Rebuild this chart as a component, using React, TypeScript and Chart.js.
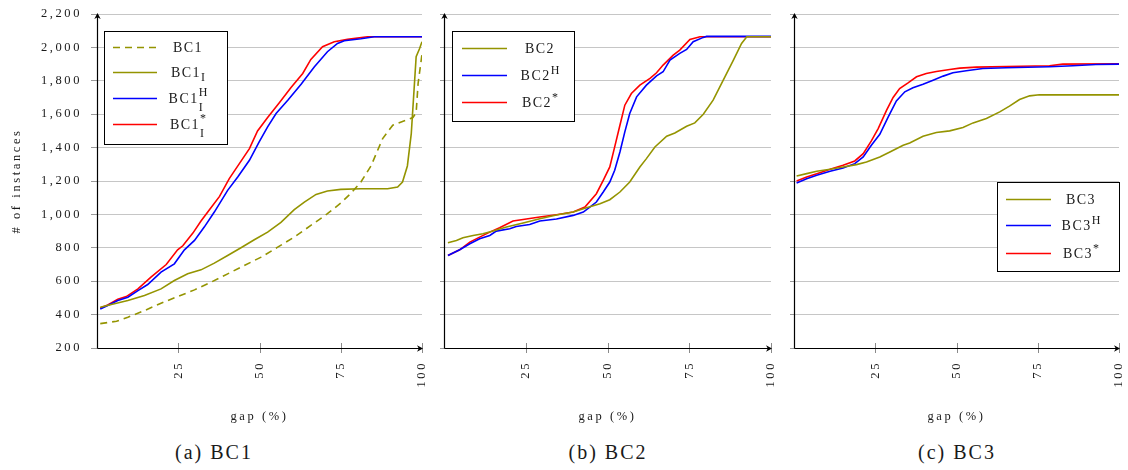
import React, { useEffect, useRef } from "react";
import { Chart, registerables } from "chart.js";

Chart.register(...registerables);

// ---------- tick labels ----------
const yTickValues = [200, 400, 600, 800, 1000, 1200, 1400, 1600, 1800, 2000, 2200];
const xTickValues = [25, 50, 75, 100];

// ---------- (a) BC1 ----------
const bc1Gap = [1, 6, 9.5, 14.6, 19.7, 24.8, 30, 35.1, 40.2, 45.3, 50.5, 55.6, 60.7, 65.8, 70.9, 75, 78, 81.2, 84.3, 87.9, 91, 94, 97.2, 98.2, 98.8, 100];
const bc1Count = [346, 360, 384, 424, 468, 508, 548, 594, 644, 694, 744, 804, 864, 934, 1004, 1068, 1124, 1194, 1290, 1454, 1534, 1556, 1580, 1610, 1784, 1960];

const bc1IGap = [1, 4.4, 9.5, 14.6, 19.7, 23.8, 27.9, 32, 36.1, 40.2, 44.3, 48.4, 52.5, 56.6, 60.7, 63.8, 67.4, 70.9, 75, 81.2, 89.4, 92.5, 94, 95.5, 96.7, 97.6, 98.2, 99.2, 100];
const bc1ICount = [444, 460, 484, 514, 554, 604, 644, 668, 708, 754, 800, 848, 894, 952, 1028, 1074, 1120, 1140, 1150, 1154, 1154, 1164, 1194, 1290, 1484, 1760, 1944, 1990, 2034];

const bc1IHGap = [1, 3.3, 6.4, 9.5, 12.6, 15.6, 19.7, 23.8, 26.9, 30, 33, 36.1, 40.2, 43.3, 46.9, 49.9, 52.5, 55.1, 58.7, 62.8, 66.9, 70.9, 74, 76.1, 81.2, 85.3, 100];
const bc1IHCount = [434, 454, 484, 504, 544, 580, 654, 704, 788, 844, 924, 1014, 1144, 1224, 1324, 1434, 1524, 1604, 1684, 1780, 1884, 1974, 2024, 2040, 2052, 2064, 2064];

const bc1IStarGap = [1, 3.3, 6.4, 9, 12.6, 16.6, 21.3, 24.8, 26.4, 29.5, 32, 34.6, 37.7, 40.7, 43.8, 46.9, 49.4, 52.5, 56.1, 59.7, 63.3, 65.8, 69.4, 73, 77.1, 83.2, 100];
const bc1IStarCount = [440, 458, 492, 508, 554, 624, 700, 788, 812, 888, 960, 1028, 1108, 1214, 1304, 1394, 1500, 1580, 1668, 1760, 1844, 1928, 2004, 2034, 2048, 2064, 2064];

// ---------- (b) BC2 ----------
const bc2Gap = [1.2, 3.8, 5.8, 8.9, 11.9, 15, 19.1, 24.2, 29.3, 34.4, 39.5, 43.6, 47.7, 50.7, 53.8, 56.8, 59.9, 61.9, 64.5, 68.1, 70.6, 74.2, 76.7, 79.3, 82.3, 85.4, 88.5, 91, 92.6, 100];
const bc2Count = [830, 844, 860, 874, 884, 900, 924, 948, 974, 996, 1014, 1040, 1064, 1088, 1134, 1194, 1284, 1334, 1404, 1468, 1488, 1528, 1548, 1600, 1684, 1804, 1924, 2024, 2064, 2064];

const bc2HGap = [1.2, 4.8, 7.9, 10.9, 14, 16, 20.1, 22.1, 26.2, 29.3, 34.4, 39.5, 42.6, 44.6, 46.6, 48.7, 50.7, 52.2, 53.8, 55.3, 56.8, 58.9, 61.9, 65, 67, 69.1, 72.1, 74.2, 76.2, 79.3, 80.3, 100];
const bc2HCount = [754, 788, 824, 854, 874, 900, 914, 928, 940, 960, 972, 994, 1014, 1044, 1074, 1134, 1194, 1264, 1374, 1494, 1604, 1704, 1774, 1830, 1854, 1924, 1964, 1988, 2034, 2060, 2066, 2066];

const bc2StarGap = [1.2, 4.8, 7.9, 10.9, 14, 17, 21.1, 25.2, 29.3, 34.4, 39.5, 43.1, 46.6, 48.7, 50.7, 52.2, 53.8, 55.3, 57.3, 59.9, 63, 65, 67, 70.1, 72.1, 75.2, 78.3, 100];
const bc2StarCount = [754, 788, 834, 864, 894, 920, 960, 972, 984, 998, 1014, 1044, 1124, 1204, 1284, 1404, 1534, 1654, 1724, 1774, 1814, 1848, 1894, 1954, 1984, 2048, 2064, 2064];

// ---------- (c) BC3 ----------
const bc3Gap = [0.8, 3.9, 7, 11.1, 15.1, 19.2, 22.3, 26.4, 29.5, 33.6, 35.6, 39.7, 43.8, 47.9, 52, 55.1, 59.2, 63.3, 66.3, 69.4, 72.5, 75.5, 100];
const bc3Count = [1230, 1244, 1258, 1270, 1284, 1298, 1314, 1344, 1374, 1414, 1428, 1468, 1490, 1500, 1520, 1548, 1574, 1614, 1648, 1688, 1710, 1716, 1716];

const bc3HGap = [0.8, 3.9, 7, 11.1, 15.1, 18.7, 21.3, 23.8, 26.4, 29, 31.5, 34.1, 36.6, 39.7, 42.8, 45.9, 48.9, 53, 58.1, 65.3, 78.6, 85.8, 92.9, 100];
const bc3HCount = [1188, 1214, 1234, 1258, 1278, 1304, 1344, 1414, 1480, 1584, 1680, 1734, 1758, 1780, 1804, 1828, 1848, 1860, 1874, 1878, 1884, 1890, 1898, 1900];

const bc3StarGap = [0.8, 3.9, 7, 11.1, 15.1, 18.7, 21.3, 23.8, 25.9, 28.5, 30.5, 32.5, 35.1, 37.7, 40.7, 43.8, 47.9, 51, 56.1, 65.3, 78.6, 82.7, 100];
const bc3StarCount = [1200, 1224, 1244, 1270, 1294, 1320, 1364, 1440, 1514, 1624, 1700, 1754, 1788, 1824, 1844, 1856, 1868, 1876, 1882, 1886, 1890, 1900, 1902];

// ---------- styling ----------
const OLIVE = "#949400";
const BLUE = "#0000ff";
const RED = "#ff0000";
const FONT = '"Liberation Serif", "Times New Roman", serif';
const TEXT = "#1a1a1a";

type Series = { label: string; sup?: string; sub?: string; gap: number[]; count: number[]; color: string; dash?: number[] };
type LegendLayout = { x: number; y: number; w: number; h: number; rows: number[]; lx0: number; lx1: number; cx: number };
type Panel = {
  caption: string;
  left: number;
  width: number;
  yWidth: number;
  padRight: number;
  showYLabels: boolean;
  tickLen: number;
  series: Series[];
  legend: LegendLayout;
  captionCx: number;
};

const CANVAS_H = 428;

const panels: Panel[] = [
  {
    caption: "(a) BC1",
    left: 0,
    width: 432,
    yWidth: 97,
    padRight: 10,
    showYLabels: true,
    tickLen: 6,
    captionCx: 214,
    series: [
      { label: "BC1", gap: bc1Gap, count: bc1Count, color: OLIVE, dash: [7, 5] },
      { label: "BC1", sub: "I", gap: bc1IGap, count: bc1ICount, color: OLIVE },
      { label: "BC1", sub: "I", sup: "H", gap: bc1IHGap, count: bc1IHCount, color: BLUE },
      { label: "BC1", sub: "I", sup: "*", gap: bc1IStarGap, count: bc1IStarCount, color: RED },
    ],
    legend: { x: 104, y: 31, w: 123, h: 113, rows: [47, 72, 98, 124], lx0: 113, lx1: 157, cx: 188 },
  },
  {
    caption: "(b) BC2",
    left: 432,
    width: 348,
    yWidth: 12,
    padRight: 9,
    showYLabels: false,
    tickLen: 4,
    captionCx: 608,
    series: [
      { label: "BC2", gap: bc2Gap, count: bc2Count, color: OLIVE },
      { label: "BC2", sup: "H", gap: bc2HGap, count: bc2HCount, color: BLUE },
      { label: "BC2", sup: "*", gap: bc2StarGap, count: bc2StarCount, color: RED },
    ],
    legend: { x: 20, y: 31, w: 122, h: 90, rows: [48, 75, 102], lx0: 30, lx1: 75, cx: 108 },
  },
  {
    caption: "(c) BC3",
    left: 780,
    width: 348,
    yWidth: 14,
    padRight: 9,
    showYLabels: false,
    tickLen: 4,
    captionCx: 957,
    series: [
      { label: "BC3", gap: bc3Gap, count: bc3Count, color: OLIVE },
      { label: "BC3", sup: "H", gap: bc3HGap, count: bc3HCount, color: BLUE },
      { label: "BC3", sup: "*", gap: bc3StarGap, count: bc3StarCount, color: RED },
    ],
    legend: { x: 217, y: 182, w: 122, h: 89, rows: [199, 225, 253], lx0: 226, lx1: 271, cx: 301 },
  },
];

function drawArrow(ctx: CanvasRenderingContext2D, tx: number, ty: number, dir: "up" | "right") {
  ctx.save();
  ctx.translate(tx, ty);
  if (dir === "right") ctx.rotate(Math.PI / 2);
  ctx.beginPath();
  ctx.moveTo(0, 0);
  ctx.lineTo(-3.2, 6);
  ctx.lineTo(0, 4.2);
  ctx.lineTo(3.2, 6);
  ctx.closePath();
  ctx.fillStyle = "#000";
  ctx.fill();
  ctx.restore();
}

function drawLegend(ctx: CanvasRenderingContext2D, L: LegendLayout, items: Series[]) {
  ctx.save();
  ctx.fillStyle = "#fff";
  ctx.fillRect(L.x, L.y, L.w, L.h);
  ctx.strokeStyle = "#000";
  ctx.lineWidth = 1;
  ctx.setLineDash([]);
  ctx.strokeRect(L.x + 0.5, L.y + 0.5, L.w, L.h);
  items.forEach((it, i) => {
    const ry = L.rows[i];
    ctx.beginPath();
    ctx.setLineDash(it.dash || []);
    ctx.strokeStyle = it.color;
    ctx.lineWidth = 1.6;
    ctx.moveTo(L.lx0, ry + 0.5);
    ctx.lineTo(L.lx1, ry + 0.5);
    ctx.stroke();
    ctx.setLineDash([]);

    ctx.fillStyle = TEXT;
    ctx.textAlign = "left";
    ctx.textBaseline = "alphabetic";
    ctx.font = `14px ${FONT}`;
    (ctx as any).letterSpacing = "1.5px";
    const bw = ctx.measureText(it.label).width;
    ctx.font = `12px ${FONT}`;
    (ctx as any).letterSpacing = "0px";
    const supW = it.sup ? ctx.measureText(it.sup).width : 0;
    const subW = it.sub ? ctx.measureText(it.sub).width : 0;
    const total = bw + Math.max(supW, subW);
    const x0 = L.cx - total / 2;
    const base = ry + 5;
    ctx.font = `14px ${FONT}`;
    (ctx as any).letterSpacing = "1.5px";
    ctx.fillText(it.label, x0, base);
    ctx.font = `12px ${FONT}`;
    (ctx as any).letterSpacing = "0px";
    if (it.sup) ctx.fillText(it.sup, x0 + bw, base - (it.sub ? 7 : 6));
    if (it.sub) ctx.fillText(it.sub, x0 + bw, base + (it.sup ? 8 : 4));
  });
  ctx.restore();
}

const decorPlugin = {
  id: "decor",
  beforeDraw(chart: any) {
    chart.ctx.letterSpacing = "2.6px";
  },
  afterDatasetsDraw(chart: any) {
    const ctx: CanvasRenderingContext2D = chart.ctx;
    const a = chart.chartArea;
    const xs = chart.scales.x;
    const panel: Panel = chart.options.plugins.decor.panel;
    ctx.save();
    (ctx as any).letterSpacing = "0px";
    ctx.lineWidth = 1;
    ctx.setLineDash([]);
    // x tick marks
    ctx.strokeStyle = "#8a8a8a";
    xTickValues.forEach((v) => {
      const px = Math.round(xs.getPixelForValue(v)) + 0.5;
      ctx.beginPath();
      ctx.moveTo(px, a.bottom - 5);
      ctx.lineTo(px, a.bottom + 5);
      ctx.stroke();
    });
    ctx.strokeStyle = "#000";
    ctx.lineWidth = 1.2;
    const lx = Math.round(a.left) + 0.5;
    const by = Math.round(a.bottom) + 0.5;
    ctx.beginPath();
    ctx.moveTo(lx, by);
    ctx.lineTo(lx, a.top + 3);
    ctx.stroke();
    ctx.beginPath();
    ctx.moveTo(lx, by);
    ctx.lineTo(a.right - 3, by);
    ctx.stroke();
    drawArrow(ctx, lx, a.top - 1, "up");
    drawArrow(ctx, a.right + 1, by, "right");
    ctx.restore();
    drawLegend(ctx, panel.legend, panel.series);
  },
};

function PanelChart({ panel }: { panel: Panel }) {
  const ref = useRef<HTMLCanvasElement | null>(null);
  useEffect(() => {
    if (!ref.current) return;
    const chart = new Chart(ref.current, {
      type: "line",
      data: {
        datasets: panel.series.map((s) => ({
          label: s.label + (s.sub ? "_" + s.sub : "") + (s.sup ? "^" + s.sup : ""),
          data: s.gap.map((g, i) => ({ x: g, y: s.count[i] })),
          borderColor: s.color,
          backgroundColor: s.color,
          borderWidth: 1.6,
          borderDash: s.dash || [],
          pointRadius: 0,
          tension: 0,
          fill: false,
        })),
      },
      options: {
        animation: false,
        responsive: false,
        maintainAspectRatio: false,
        layout: { padding: { top: 14, right: panel.padRight, bottom: 0, left: 0 } },
        plugins: {
          legend: { display: false },
          tooltip: { enabled: false },
          decor: { panel },
        } as any,
        scales: {
          x: {
            type: "linear",
            min: 0,
            max: 100,
            afterBuildTicks: (s: any) => {
              s.ticks = xTickValues.map((v) => ({ value: v }));
            },
            afterFit: (s: any) => {
              s.height = CANVAS_H - 348;
              s.paddingLeft = 0;
              s.paddingRight = 0;
            },
            grid: { display: false, drawTicks: false },
            border: { display: false },
            ticks: {
              minRotation: 90,
              maxRotation: 90,
              padding: 13,
              color: TEXT,
              font: { family: FONT, size: 12.5 },
            },
            title: {
              display: true,
              text: "gap (%)",
              color: TEXT,
              font: { family: FONT, size: 12.5 },
              padding: { top: 0, bottom: 4 },
            },
          },
          y: {
            type: "linear",
            min: 200,
            max: 2200,
            afterBuildTicks: (s: any) => {
              s.ticks = yTickValues.map((v) => ({ value: v }));
            },
            afterFit: (s: any) => {
              s.width = panel.yWidth;
              s.paddingTop = 0;
              s.paddingBottom = 0;
            },
            grid: {
              color: "#c6c6c6",
              lineWidth: 1,
              drawTicks: true,
              tickLength: panel.tickLen,
              tickColor: "#9a9a9a",
            },
            border: { display: false },
            ticks: {
              display: panel.showYLabels,
              padding: 9,
              color: TEXT,
              font: { family: FONT, size: 12.5 },
              callback: (v: any) => Number(v).toLocaleString("en-US"),
            },
            title: {
              display: panel.showYLabels,
              text: "# of instances",
              color: TEXT,
              font: { family: FONT, size: 12.5 },
              padding: { top: 9, bottom: 0 },
            },
          },
        },
      } as any,
      plugins: [decorPlugin as any],
    });
    return () => chart.destroy();
  }, [panel]);

  return (
    <>
      <canvas
        ref={ref}
        width={panel.width}
        height={CANVAS_H}
        style={{ position: "absolute", left: panel.left, top: 0, width: panel.width, height: CANVAS_H }}
      />
      <div
        style={{
          position: "absolute",
          left: panel.captionCx - 100,
          top: 440,
          width: 200,
          textAlign: "center",
          fontFamily: FONT,
          fontSize: 20,
          letterSpacing: "2px",
          color: TEXT,
          lineHeight: "24px",
        }}
      >
        {panel.caption}
      </div>
    </>
  );
}

export default function App() {
  return (
    <div style={{ position: "absolute", left: 0, top: 0, width: 1128, height: 470, background: "#fff", overflow: "hidden" }}>
      {panels.map((p) => (
        <PanelChart key={p.caption} panel={p} />
      ))}
    </div>
  );
}
